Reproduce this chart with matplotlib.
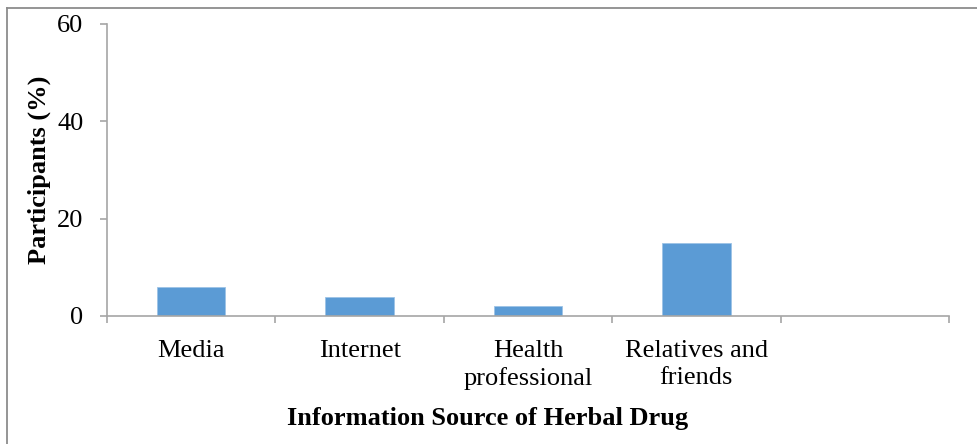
import matplotlib
matplotlib.use("Agg")
import matplotlib.pyplot as plt
from matplotlib.lines import Line2D

categories = ["Media", "Internet", "Health\nprofessional", "Relatives and\nfriends", ""]
values = [6, 4, 2, 15, 0]
yticks = [0, 20, 40, 60]

plt.rcParams["font.family"] = ["Liberation Serif", "DejaVu Serif"]

fig = plt.figure(figsize=(9.78, 4.44), dpi=100)
ax = fig.add_axes([107 / 978, 1 - 316 / 444, (949 - 107) / 978, (316 - 23.5) / 444])

axis_color = "#A6A6A6"
x = list(range(len(categories)))
ax.bar(x, values, width=0.405, color="#5B9BD5", edgecolor="#9DC3E6", linewidth=0.6, zorder=2)

ax.set_xlim(-0.5, len(categories) - 0.5)
ax.set_ylim(0, 60)
ax.set_yticks(yticks)
ax.set_yticklabels([str(v) for v in yticks], fontsize=19)
ax.set_xticks(x)
ax.set_xticklabels(categories, fontsize=19, linespacing=1.3)
ax.set_xticks([i - 0.5 for i in range(len(categories) + 1)], minor=True)

ax.tick_params(axis="x", which="major", length=0, pad=17)
ax.tick_params(axis="x", which="minor", length=5, color=axis_color, width=1.2)
ax.tick_params(axis="y", length=5, color=axis_color, width=1.2, pad=12)

for side in ("top", "right"):
    ax.spines[side].set_visible(False)
for side in ("left", "bottom"):
    ax.spines[side].set_color(axis_color)
    ax.spines[side].set_linewidth(1.2)

ax.set_ylabel("Participants (%)", fontsize=19, fontweight="bold", labelpad=4)
ax.set_xlabel("Information Source of Herbal Drug", fontsize=19, fontweight="bold", labelpad=8)
ax.xaxis.set_label_coords(0.4525, -0.31)

# Chart frame: top and left edges
fig.add_artist(Line2D([7 / 978, 1], [1 - 8 / 444, 1 - 8 / 444], color="#8C8C8C", linewidth=1.3,
                      transform=fig.transFigure))
fig.add_artist(Line2D([7 / 978, 7 / 978], [0, 1 - 8 / 444], color="#8C8C8C", linewidth=1.3,
                      transform=fig.transFigure))

fig.savefig("out.png", dpi=100, facecolor="white")
